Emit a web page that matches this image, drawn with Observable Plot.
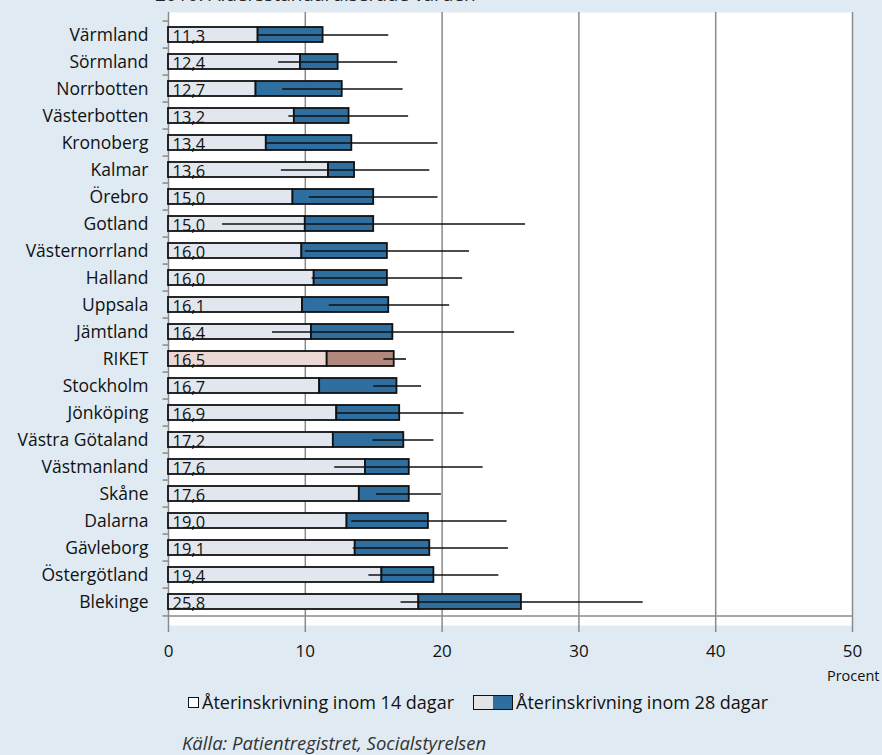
<!DOCTYPE html>
<html>
<head>
<meta charset="utf-8">
<script src="https://cdn.jsdelivr.net/npm/d3@7"></script>
<script src="https://cdn.jsdelivr.net/npm/@observablehq/plot@0.6"></script>
<style>
  html, body { margin: 0; padding: 0; width: 882px; height: 755px; overflow: hidden; background: #dfeaf2; font-family: "Open Sans", sans-serif; }
  #wrap { position: relative; width: 882px; height: 755px; }
  #title { position: absolute; left: 155px; top: -16px; font-size: 19px; line-height: 20px; color: #222; white-space: nowrap; }
  #chart { position: absolute; left: 0; top: 0; }
  .lg { position: absolute; white-space: nowrap; font-size: 18px; line-height: 20px; color: #111; }
  .sq { position: absolute; left: 188px; top: 697px; width: 9px; height: 9px; border: 1.5px solid #111; background: #fff; }
  .box { position: absolute; left: 473px; top: 695px; width: 38px; height: 13px; border: 1.5px solid #111; display: flex; }
  .box .l { flex: 1; background: #e4e4e4; }
  .box .r { flex: 1; background: #2f6f9f; }
  #caption { position: absolute; left: 182px; top: 733px; font-size: 18.5px; line-height: 20px; font-style: italic; color: #333; white-space: nowrap; }
</style>
</head>
<body>
<div id="wrap">
  <div id="chart"></div>
  <div id="title">2010. Åldersstandardiserade värden</div>
  <div class="sq"></div>
  <div class="lg" style="left:202px; top:692px;">Återinskrivning inom 14 dagar</div>
  <div class="box"><div class="l"></div><div class="r"></div></div>
  <div class="lg" style="left:516px; top:692px;">Återinskrivning inom 28 dagar</div>
  <div id="caption">Källa: Patientregistret, Socialstyrelsen</div>
</div>
<script>
const names = ["Värmland","Sörmland","Norrbotten","Västerbotten","Kronoberg","Kalmar","Örebro","Gotland","Västernorrland","Halland","Uppsala","Jämtland","RIKET","Stockholm","Jönköping","Västra Götaland","Västmanland","Skåne","Dalarna","Gävleborg","Östergötland","Blekinge"];
const total28 = [11.3,12.4,12.7,13.2,13.4,13.6,15.0,15.0,16.0,16.0,16.1,16.4,16.5,16.7,16.9,17.2,17.6,17.6,19.0,19.1,19.4,25.8];
const days14 = [6.55,9.65,6.4,9.2,7.15,11.7,9.1,10.0,9.75,10.65,9.8,10.45,11.6,11.05,12.3,12.05,14.4,13.95,13.05,13.65,15.6,18.3];
const ciLow = [6.6,8.05,8.35,8.8,7.15,8.25,10.3,3.95,10.0,10.5,11.75,7.6,15.75,15.0,12.25,14.95,12.15,15.2,13.4,13.5,14.65,17.0];
const ciHigh = [16.1,16.75,17.15,17.55,19.7,19.1,19.7,26.1,22.0,21.5,20.55,25.3,17.4,18.5,21.6,19.4,23.0,19.95,24.75,24.85,24.15,34.7];
const xTicks = [0,10,20,30,40,50];

const data = names.map((n, i) => ({name: n, t28: total28[i], t14: days14[i], lo: ciLow[i], hi: ciHigh[i], riket: n === "RIKET"}));

const W = 882, H = 690, mTop = 12, mBottom = 65;
const step = (H - mTop - mBottom) / names.length;
const stroke = "#111";
const grid = "#8a8a8a";

const chart = Plot.plot({
  width: W,
  height: H,
  marginLeft: 168,
  marginRight: 30,
  marginTop: mTop,
  marginBottom: mBottom,
  style: {background: "transparent", fontFamily: "'Open Sans', sans-serif"},
  x: {domain: [0, 50]},
  y: {domain: names, paddingInner: 0.43, paddingOuter: 0.215, align: 0.5},
  marks: [
    Plot.frame({fill: "white", stroke: null}),
    Plot.ruleX(xTicks.slice(1), {stroke: grid, strokeWidth: 1.5}),
    Plot.ruleX([0], {stroke: grid, strokeWidth: 1.5}),
    Plot.ruleY([names[names.length - 1]], {x1: 0, x2: 50, dy: step / 2, stroke: grid, strokeWidth: 1.5}),
    Plot.ruleY(names, {y: d => d, x1: -0.4, x2: 0, dy: -step / 2, stroke: grid, strokeWidth: 1.5}),
    Plot.ruleY([names[names.length - 1]], {x1: -0.4, x2: 0, dy: step / 2, stroke: grid, strokeWidth: 1.5}),
    Plot.barX(data, {y: "name", x1: 0, x2: "t14", fill: d => d.riket ? "#ecd9d5" : "#e1e6ef", stroke, strokeWidth: 1.8}),
    Plot.barX(data, {y: "name", x1: "t14", x2: "t28", fill: d => d.riket ? "#b1887b" : "#2f6f9f", stroke, strokeWidth: 1.8}),
    Plot.ruleY(data, {y: "name", x1: "lo", x2: "hi", stroke, strokeWidth: 1.6}),
    Plot.text(data, {y: "name", x: 0, dx: 4, dy: 2, text: d => d.t28.toFixed(1).replace(".", ","), textAnchor: "start", fontSize: 16.5, fill: "#111"}),
    Plot.axisY({tickSize: 0, tickPadding: 20, fontSize: 17.5, label: null, color: "#111"}),
    Plot.axisX({ticks: xTicks, tickSize: 7, tickPadding: 12, fontSize: 17, stroke: grid, color: "#111", strokeWidth: 1.5, label: null}),
    Plot.text(["Procent"], {frameAnchor: "bottom-right", dx: 27, dy: 55, text: d => d, fontSize: 14.5, textAnchor: "end", fill: "#111"})
  ]
});
document.getElementById("chart").appendChild(chart);
</script>
</body>
</html>
